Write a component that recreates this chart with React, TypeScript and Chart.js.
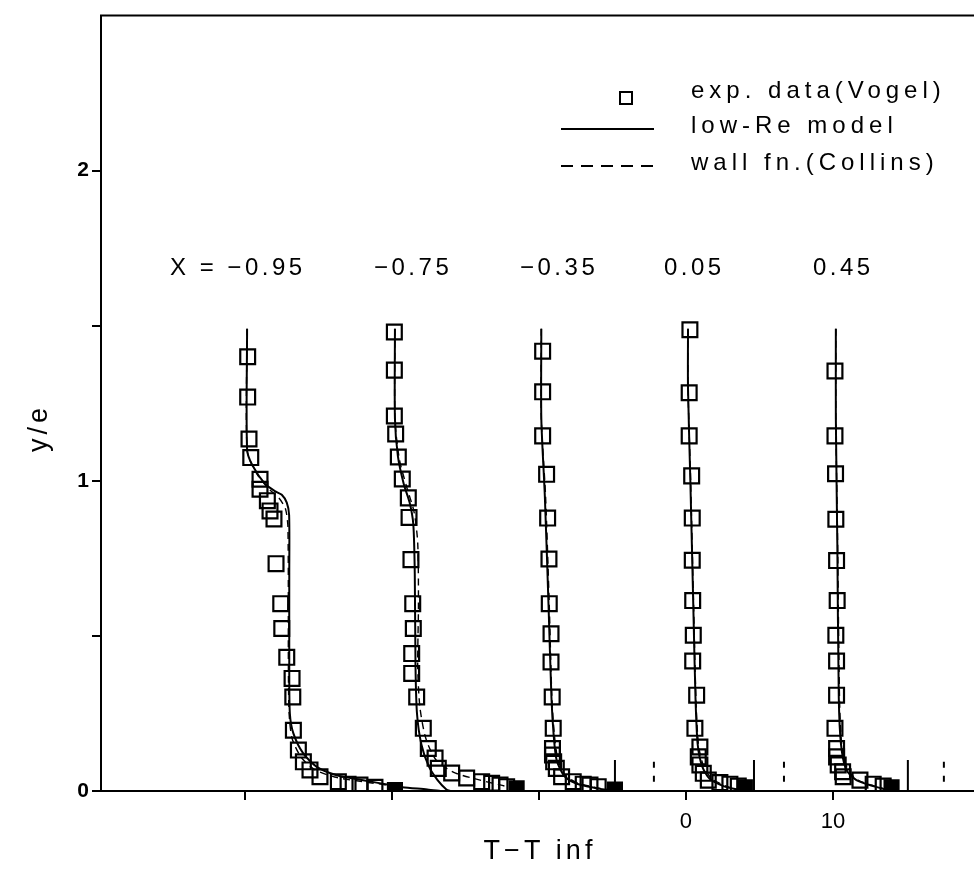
import React, { useEffect, useRef } from 'react';
import Chart from 'chart.js/auto';

// ---------- axis ticks ----------
const xTickValues = [-30, -20, -10, 0, 10];
const xTickLabels = ['', '', '', '0', '10'];
const yTickValues = [0, 0.5, 1, 1.5, 2];
const yTickLabels = ['0', '', '1', '', '2'];

// ---------- profile labels (stream-wise station X) ----------
const profileLabels = ['X = −0.95', '−0.75', '−0.35', '0.05', '0.45'];
const profileLabelLeft = [170, 374, 520, 664, 813];

// ---------- legend ----------
const legendLabels = ['exp. data(Vogel)', 'low-Re model', 'wall fn.(Collins)'];

// ---------- X = -0.95 ----------
const exp1X = [-29.82, -29.82, -29.73, -29.61, -28.98, -28.98, -28.48, -28.3, -28.03, -27.89, -27.57, -27.5, -27.16, -26.8, -26.75, -26.71, -26.37, -26.03, -25.58, -24.9, -23.65, -22.99, -22.18, -21.16];
const exp1Y = [1.40, 1.27, 1.135, 1.075, 1.005, 0.973, 0.936, 0.903, 0.877, 0.733, 0.604, 0.524, 0.431, 0.363, 0.303, 0.196, 0.132, 0.094, 0.068, 0.046, 0.030, 0.022, 0.019, 0.012];
const low1X = [-29.86, -29.86, -29.5, -28.64, -27.9, -27.5, -27.16, -27.0, -26.99, -26.99, -26.95, -26.71, -26.05, -25.12, -23.76, -21.97, -20.14, -19.3, -17.6, -16.7];
const low1Y = [1.49, 1.1, 1.05, 0.99, 0.965, 0.955, 0.93, 0.89, 0.7, 0.4, 0.25, 0.186, 0.122, 0.078, 0.051, 0.035, 0.019, 0.012, 0.005, 0.0];
const wall1X = [-29.86, -29.86, -29.3, -28.4, -27.7, -27.25, -27.08, -27.05, -27.0, -26.8, -26.2, -25.3, -23.9, -22.0, -20.0, -19.8];
const wall1Y = [1.49, 1.1, 1.03, 0.975, 0.945, 0.91, 0.85, 0.4, 0.25, 0.17, 0.11, 0.07, 0.045, 0.03, 0.015, 0.0];

// ---------- X = -0.75 ----------
const exp2X = [-19.84, -19.84, -19.84, -19.75, -19.57, -19.3, -18.89, -18.84, -18.71, -18.59, -18.55, -18.66, -18.66, -18.32, -17.87, -17.53, -17.07, -16.85, -15.94, -14.92, -13.9, -13.22, -12.65, -12.2];
const exp2Y = [1.48, 1.357, 1.209, 1.151, 1.077, 1.006, 0.945, 0.882, 0.746, 0.604, 0.524, 0.443, 0.379, 0.303, 0.202, 0.137, 0.106, 0.073, 0.058, 0.042, 0.030, 0.025, 0.019, 0.014];
const low2X = [-19.8, -19.8, -19.6, -19.2, -18.8, -18.55, -18.45, -18.4, -18.3, -18.0, -17.5, -16.9, -16.3, -16.0];
const low2Y = [1.49, 1.2, 1.08, 0.99, 0.93, 0.86, 0.7, 0.4, 0.25, 0.15, 0.08, 0.035, 0.005, 0.0];
const wall2X = [-19.8, -19.8, -19.5, -19.0, -18.5, -18.25, -18.2, -18.25, -18.1, -17.7, -17.0, -15.8, -14.0, -12.5, -11.5];
const wall2Y = [1.49, 1.2, 1.07, 0.98, 0.9, 0.8, 0.6, 0.4, 0.27, 0.17, 0.1, 0.06, 0.035, 0.018, 0.005];

// ---------- X = -0.35 ----------
const exp3X = [-9.75, -9.75, -9.75, -9.48, -9.41, -9.32, -9.3, -9.18, -9.18, -9.1, -9.03, -9.08, -9.08, -9.0, -8.82, -8.46, -7.67, -6.99, -6.53, -5.97];
const exp3Y = [1.418, 1.287, 1.145, 1.021, 0.88, 0.748, 0.604, 0.507, 0.416, 0.303, 0.202, 0.137, 0.116, 0.094, 0.073, 0.046, 0.030, 0.022, 0.019, 0.014];
const low3X = [-9.84, -9.84, -9.6, -9.35, -9.15, -9.0, -8.8, -8.3, -7.5, -6.2, -4.83];
const low3Y = [1.49, 1.2, 0.95, 0.6, 0.3, 0.18, 0.1, 0.05, 0.025, 0.01, 0.0];
const wall3X = [-9.84, -9.84, -9.55, -9.3, -9.12, -8.95, -8.7, -8.2, -7.3, -6.0, -4.83];
const wall3Y = [1.49, 1.2, 0.95, 0.6, 0.3, 0.18, 0.1, 0.05, 0.025, 0.01, 0.0];

// ---------- X = 0.05 ----------
const exp4X = [0.27, 0.22, 0.22, 0.39, 0.43, 0.43, 0.46, 0.5, 0.46, 0.73, 0.61, 0.95, 0.84, 0.95, 1.18, 1.52, 2.31, 2.99, 3.56];
const exp4Y = [1.487, 1.284, 1.145, 1.016, 0.88, 0.744, 0.614, 0.502, 0.419, 0.309, 0.202, 0.142, 0.110, 0.084, 0.057, 0.035, 0.027, 0.022, 0.016];
const low4X = [0.14, 0.14, 0.3, 0.5, 0.65, 0.8, 1.1, 1.6, 2.6, 4.0];
const low4Y = [1.49, 1.3, 1.0, 0.6, 0.3, 0.15, 0.08, 0.04, 0.015, 0.0];
const wall4X = [0.14, 0.14, 0.32, 0.52, 0.68, 0.85, 1.2, 1.75, 2.8, 4.0];
const wall4Y = [1.49, 1.3, 1.0, 0.6, 0.3, 0.15, 0.08, 0.04, 0.015, 0.0];

// ---------- X = 0.45 ----------
const exp5X = [10.14, 10.14, 10.18, 10.2, 10.25, 10.29, 10.2, 10.25, 10.25, 10.14, 10.25, 10.25, 10.36, 10.66, 10.7, 11.84, 12.74, 13.42];
const exp5Y = [1.354, 1.145, 1.023, 0.876, 0.743, 0.614, 0.502, 0.419, 0.309, 0.202, 0.137, 0.110, 0.084, 0.062, 0.046, 0.035, 0.022, 0.016];
const low5X = [10.2, 10.2, 10.3, 10.4, 10.55, 10.9, 11.6, 12.8, 14.0];
const low5Y = [1.49, 1.2, 0.8, 0.3, 0.15, 0.07, 0.035, 0.015, 0.0];
const wall5X = [10.2, 10.2, 10.32, 10.45, 10.6, 11.0, 11.7, 12.9, 14.0];
const wall5Y = [1.49, 1.2, 0.8, 0.3, 0.15, 0.07, 0.035, 0.015, 0.0];

// ---------- wall values (filled squares) ----------
const wallPointX = [-19.8, -11.52, -4.83, 4.01, 13.99];
const wallPointY = [0.003, 0.009, 0.005, 0.012, 0.012];

// ---------- short marks on the axis ----------
const solidMarkX = [-4.83, 4.63, 15.1];
const solidMarkTop = 0.1;
const dashMarkX = [-2.18, 6.67, 17.55];
const dashMarkBottom = 0.03;
const dashMarkTop = 0.1;

const pts = (xs: number[], ys: number[]) => xs.map((x, i) => ({ x, y: ys[i] }));

const FONT = '"Liberation Sans", Arial, Helvetica, sans-serif';

export default function App() {
  const ref = useRef<HTMLCanvasElement | null>(null);

  useEffect(() => {
    if (!ref.current) return;

    const lineDs = (xs: number[], ys: number[]) => ({
      data: pts(xs, ys),
      showLine: true,
      borderColor: '#000',
      borderWidth: 2,
      pointRadius: 0,
      tension: 0.25,
      fill: false,
    });
    const wallDs = (xs: number[], ys: number[]) => ({
      data: pts(xs, ys),
      showLine: true,
      borderColor: '#000',
      borderWidth: 1.4,
      borderDash: [7, 5],
      pointRadius: 0,
      tension: 0.25,
      fill: false,
    });
    const expDs = (xs: number[], ys: number[]) => ({
      data: pts(xs, ys),
      showLine: false,
      pointStyle: 'rect',
      pointRadius: 10.5,
      borderColor: '#000',
      borderWidth: 2.2,
      backgroundColor: 'rgba(0,0,0,0)',
    });

    const datasets: any[] = [
      lineDs(low1X, low1Y), lineDs(low2X, low2Y), lineDs(low3X, low3Y), lineDs(low4X, low4Y), lineDs(low5X, low5Y),
      wallDs(wall1X, wall1Y), wallDs(wall2X, wall2Y), wallDs(wall3X, wall3Y), wallDs(wall4X, wall4Y), wallDs(wall5X, wall5Y),
      expDs(exp1X, exp1Y), expDs(exp2X, exp2Y), expDs(exp3X, exp3Y), expDs(exp4X, exp4Y), expDs(exp5X, exp5Y),
      {
        data: pts(wallPointX, wallPointY),
        showLine: false,
        pointStyle: 'rect',
        pointRadius: 10,
        borderColor: '#000',
        borderWidth: 2,
        backgroundColor: '#000',
      },
    ];
    solidMarkX.forEach((x) => {
      datasets.push({
        data: [{ x, y: 0 }, { x, y: solidMarkTop }],
        showLine: true, borderColor: '#000', borderWidth: 2, pointRadius: 0,
      });
    });
    dashMarkX.forEach((x) => {
      datasets.push({
        data: [{ x, y: dashMarkBottom }, { x, y: dashMarkTop }],
        showLine: true, borderColor: '#000', borderWidth: 2, borderDash: [6, 8], pointRadius: 0,
      });
    });

    const annotate = {
      id: 'annotate',
      afterDraw(chart: any) {
        const { ctx, chartArea } = chart;
        ctx.save();
        ctx.strokeStyle = '#000';
        ctx.fillStyle = '#000';
        // top frame line
        ctx.lineWidth = 2;
        ctx.beginPath();
        ctx.moveTo(chartArea.left - 1, chartArea.top);
        ctx.lineTo(chartArea.right, chartArea.top);
        ctx.stroke();

        // profile labels
        ctx.font = `24px ${FONT}`;
        (ctx as any).letterSpacing = '3.5px';
        ctx.textBaseline = 'middle';
        ctx.textAlign = 'left';
        profileLabels.forEach((t, i) => ctx.fillText(t, profileLabelLeft[i], 268));

        // legend
        (ctx as any).letterSpacing = '5px';
        ctx.font = `24px ${FONT}`;
        ctx.lineWidth = 2;
        ctx.strokeRect(620, 92, 12, 12);
        ctx.fillText(legendLabels[0], 691, 91);
        ctx.beginPath();
        ctx.moveTo(561, 129);
        ctx.lineTo(654, 129);
        ctx.stroke();
        ctx.fillText(legendLabels[1], 691, 126);
        ctx.setLineDash([12, 8]);
        ctx.beginPath();
        ctx.moveTo(561, 166);
        ctx.lineTo(654, 166);
        ctx.stroke();
        ctx.setLineDash([]);
        ctx.fillText(legendLabels[2], 691, 163);

        // axis titles
        ctx.font = `27px ${FONT}`;
        (ctx as any).letterSpacing = '4px';
        ctx.textAlign = 'center';
        ctx.fillText('T−T inf', 540, 852);
        ctx.save();
        ctx.translate(40, 428);
        ctx.rotate(-Math.PI / 2);
        ctx.fillText('y/e', 0, 0);
        ctx.restore();
        ctx.restore();
      },
    };

    const chart = new Chart(ref.current, {
      type: 'scatter',
      data: { datasets },
      options: {
        animation: false,
        responsive: false,
        devicePixelRatio: 1,
        layout: { autoPadding: false, padding: { top: 10, right: 0, left: 0, bottom: 0 } },
        plugins: { legend: { display: false }, tooltip: { enabled: false } },
        scales: {
          x: {
            type: 'linear',
            min: -39.8,
            max: 19.6,
            afterBuildTicks: (scale: any) => {
              scale.ticks = xTickValues.map((v) => ({ value: v }));
            },
            afterFit: (scale: any) => { scale.height = 83; },
            ticks: {
              color: '#000',
              font: { family: FONT, size: 22 },
              padding: 9,
              maxRotation: 0,
              autoSkip: false,
              callback: (v: any) => {
                const i = xTickValues.indexOf(Number(v));
                return i >= 0 ? xTickLabels[i] : '';
              },
            },
            grid: { display: true, drawOnChartArea: false, drawTicks: true, tickLength: 9, color: '#000', lineWidth: 2 },
            border: { display: true, color: '#000', width: 2 },
          },
          y: {
            type: 'linear',
            min: 0,
            max: 2.5,
            afterBuildTicks: (scale: any) => {
              scale.ticks = yTickValues.map((v) => ({ value: v }));
            },
            afterFit: (scale: any) => { scale.width = 101; },
            ticks: {
              color: '#000',
              font: { family: FONT, size: 21, weight: 'bold' },
              padding: 3,
              autoSkip: false,
              callback: (v: any) => {
                const i = yTickValues.indexOf(Number(v));
                return i >= 0 ? yTickLabels[i] : '';
              },
            },
            grid: { display: true, drawOnChartArea: false, drawTicks: true, tickLength: 9, color: '#000', lineWidth: 2 },
            border: { display: true, color: '#000', width: 2 },
          },
        },
      } as any,
      plugins: [annotate],
    });
    return () => chart.destroy();
  }, []);

  return (
    <div style={{ position: 'fixed', left: 0, top: 0, width: 974, height: 874, background: '#fff' }}>
      <canvas ref={ref} width={974} height={874} style={{ width: 974, height: 874, display: 'block' }} />
    </div>
  );
}
